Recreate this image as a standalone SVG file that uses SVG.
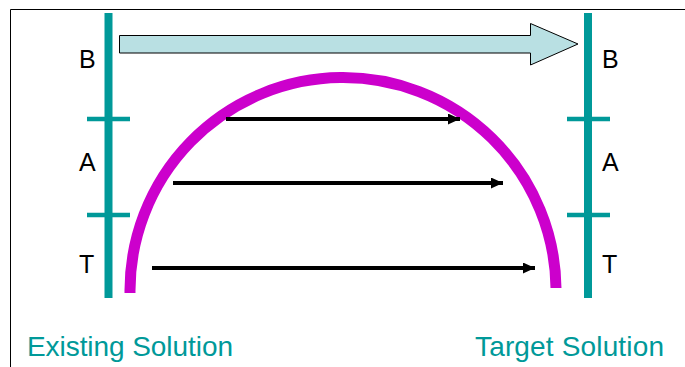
<svg xmlns="http://www.w3.org/2000/svg" width="685" height="367" viewBox="0 0 685 367">
<defs>
<style>
.bar{stroke:#009999;stroke-width:8;fill:none}
.tick{stroke:#009999;stroke-width:4.5;fill:none}
.lbl{font-family:"Liberation Sans",Arial,sans-serif;font-size:25px;fill:#000}
.cap{font-family:"Liberation Sans",Arial,sans-serif;font-size:28px;fill:#009999}
.flow{stroke:#000;stroke-width:4;fill:none;marker-end:url(#ah)}
</style>
<marker id="ah" viewBox="0 0 12 11" refX="12" refY="5.5" markerWidth="12" markerHeight="11" markerUnits="userSpaceOnUse" orient="auto">
<path d="M0,0 L12,5.5 L0,11 Z" fill="#000"/>
</marker>
</defs>
<rect width="685" height="367" fill="#fff"/>
<path d="M10.5,367 V9.5 H685" stroke="#000" stroke-width="1" fill="none"/>
<g id="existing">
<line class="bar" x1="108.5" y1="13" x2="108.5" y2="298"/>
<line class="tick" x1="87" y1="119" x2="130" y2="119"/>
<line class="tick" x1="87" y1="215" x2="130" y2="215"/>
<text class="lbl" x="79" y="68">B</text>
<text class="lbl" x="79" y="171">A</text>
<text class="lbl" x="79" y="273">T</text>
<text class="cap" x="27" y="356" textLength="206">Existing Solution</text>
</g>
<g id="target">
<line class="bar" x1="588" y1="13" x2="588" y2="298"/>
<line class="tick" x1="567" y1="119" x2="610" y2="119"/>
<line class="tick" x1="567" y1="215" x2="610" y2="215"/>
<text class="lbl" x="602" y="68">B</text>
<text class="lbl" x="602" y="171">A</text>
<text class="lbl" x="602" y="273">T</text>
<text class="cap" x="475" y="356" textLength="189">Target Solution</text>
</g>
<g id="arc">
<path d="M130,293 A213,213 0 0 1 556,288" stroke="#CC00CC" stroke-width="11" fill="none"/>
</g>
<g id="connectors">
<path d="M119.5,35.5 H530.5 V23.5 L578,44 L530.5,65 V53 H119.5 Z" fill="#B9E0E3" stroke="#000" stroke-width="1"/>
<line class="flow" x1="226" y1="119" x2="460" y2="119"/>
<line class="flow" x1="173" y1="183" x2="503" y2="183"/>
<line class="flow" x1="152" y1="268" x2="535" y2="268"/>
</g>
</svg>
